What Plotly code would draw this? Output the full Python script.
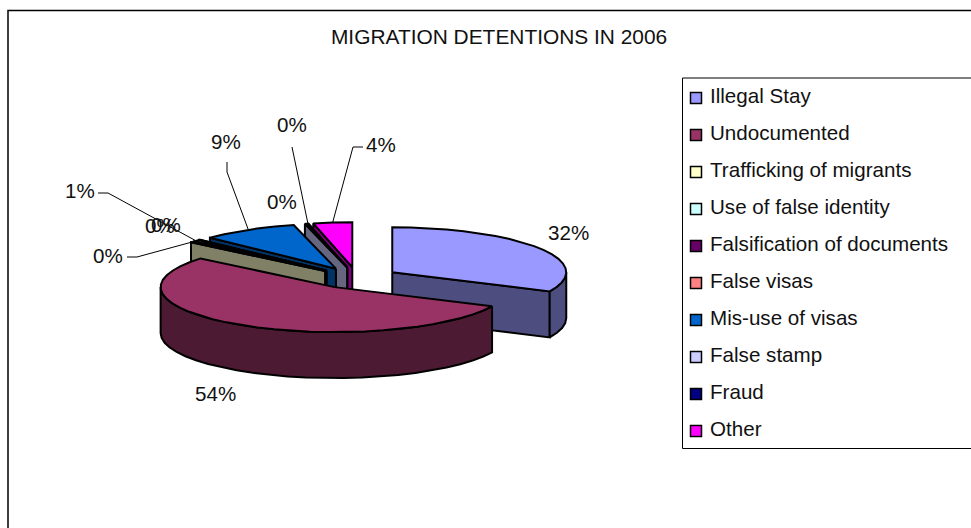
"""MIGRATION DETENTIONS 3D EXPLODED PIE"""

import numpy as np
import plotly.graph_objects as go

CATEGORIES = [
    "Illegal Stay",
    "Undocumented",
    "Trafficking of migrants",
    "Use of false identity",
    "Falsification of documents",
    "False visas",
    "Mis-use of visas",
    "False stamp",
    "Fraud",
    "Other",
]
PERCENTS = [32.0, 54.0, 0.3, 0.6, 0.1, 0.1, 9.0, 0.2, 0.1, 3.6]
TOP_COLORS = [
    "#9999FF", "#993366", "#FFFFCC", "#CCFFFF", "#660066",
    "#FF8080", "#0066CC", "#CCCCFF", "#000080", "#FF00FF",
]
SIDE_COLORS = [
    "#4D4D80", "#4D1A33", "#808066", "#668080", "#330033",
    "#804040", "#003366", "#666680", "#000040", "#800080",
]

# pie geometry, in the pixel units of the hidden axes
CENTER_X, CENTER_Y = 357, 278
RADIUS_X, RADIUS_Y = 174, 45
DEPTH = 46
EXPLODE = 0.24

# label centres, and the elbow of the leader line (None = no leader)
LABEL_POS = [
    (568, 232), (215, 393), (108, 255), (80, 190), (160, 225),
    (166, 224), (226, 141), (282, 201), (292, 124), (381, 144),
]
LEADER_ELBOWS = [
    None, None,
    [(127, 257), (137, 257)],
    [(98, 193), (108, 193)],
    None, None,
    [(227, 162), (227, 172)],
    None,
    [(292, 147)],
    [(363, 147), (353, 147)],
]

FONT = "Liberation Sans, Arial, sans-serif"
FONT_SIZE = 20.6
OUTLINE = 2


def rim_point(apex, angle, drop=0):
    """POINT ON THE ELLIPSE, ANGLE CLOCKWISE FROM 12 O'CLOCK"""
    rad = np.radians(angle)
    return apex[0] + RADIUS_X * np.sin(rad), apex[1] - RADIUS_Y * np.cos(rad) + drop


def arc(apex, start, end, drop=0):
    angles = np.linspace(start, end, max(int((end - start) / 6), 1) + 1)
    xs, ys = rim_point(apex, angles, drop)
    return list(xs), list(ys)


def polygon(xs, ys, color):
    return go.Scatter(
        x=xs + xs[:1],
        y=ys + ys[:1],
        mode="lines",
        fill="toself",
        fillcolor=color,
        line={"color": "black", "width": OUTLINE},
        hoverinfo="skip",
        showlegend=False,
    )


fig = go.Figure()

bounds = np.concatenate([[0], np.cumsum(PERCENTS)]) * 3.6
mids = (bounds[:-1] + bounds[1:]) / 2
apexes = [
    rim_point((CENTER_X, CENTER_Y), mid, 0) for mid in mids
]
apexes = [
    (CENTER_X + EXPLODE * (x - CENTER_X), CENTER_Y + EXPLODE * (y - CENTER_Y))
    for x, y in apexes
]

# painter's order: slices further back first
for i in sorted(range(len(PERCENTS)), key=lambda k: apexes[k][1]):
    apex = apexes[i]
    start, end = bounds[i], bounds[i + 1]

    for angle, visible in ((start, np.sin(np.radians(start)) < -1e-6),
                           (end, np.sin(np.radians(end)) > 1e-6)):
        if visible:
            x, y = rim_point(apex, angle)
            fig.add_trace(polygon(
                [apex[0], x, x, apex[0]],
                [apex[1], y, y + DEPTH, apex[1] + DEPTH],
                SIDE_COLORS[i],
            ))

    low, high = max(start, 90), min(end, 270)
    if low < high:
        top_x, top_y = arc(apex, low, high)
        bottom_x, bottom_y = arc(apex, low, high, DEPTH)
        fig.add_trace(polygon(
            top_x + bottom_x[::-1], top_y + bottom_y[::-1], SIDE_COLORS[i]
        ))

    face_x, face_y = arc(apex, start, end)
    fig.add_trace(polygon([apex[0]] + face_x, [apex[1]] + face_y, TOP_COLORS[i]))

# leader lines end on the rim, at the middle of their slice
for i, elbow in enumerate(LEADER_ELBOWS):
    if elbow is None:
        continue
    end_x, end_y = rim_point(apexes[i], mids[i])
    fig.add_trace(go.Scatter(
        x=[p[0] for p in elbow] + [float(end_x)],
        y=[p[1] for p in elbow] + [float(end_y)],
        mode="lines",
        line={"color": "black", "width": 1},
        hoverinfo="skip",
        showlegend=False,
    ))

for i, (x, y) in enumerate(LABEL_POS):
    fig.add_annotation(
        x=x, y=y, text=f"{round(PERCENTS[i])}%", showarrow=False,
        xanchor="center", yanchor="middle",
        font={"family": FONT, "size": FONT_SIZE, "color": "#111111"},
    )

# legend drawn by hand: plotly's own cannot put the text this close to the swatch
swatch_y = [98 + 37 * i for i in range(len(CATEGORIES))]
legend_y = [97.5 + 37 * i for i in range(len(CATEGORIES))]
fig.add_trace(go.Scatter(
    x=[696] * len(CATEGORIES),
    y=swatch_y,
    mode="markers",
    marker={
        "symbol": "square",
        "size": 11,
        "color": TOP_COLORS,
        "line": {"color": "black", "width": 1.5},
    },
    hoverinfo="skip",
    showlegend=False,
))
fig.add_trace(go.Scatter(
    x=[710] * len(CATEGORIES),
    y=legend_y,
    mode="text",
    text=CATEGORIES,
    textposition="middle right",
    textfont={"family": FONT, "size": FONT_SIZE, "color": "#111111"},
    hoverinfo="skip",
    showlegend=False,
))

fig.update_layout(
    width=971,
    height=528,
    margin={"t": 0, "l": 0, "r": 0, "b": 0},
    paper_bgcolor="white",
    plot_bgcolor="white",
    showlegend=False,
    title={
        "text": "MIGRATION DETENTIONS IN 2006",
        "x": 0.514,
        "xanchor": "center",
        "y": 1 - 37 / 528,
        "yanchor": "middle",
        "font": {"family": FONT, "size": 20.9, "color": "#111111"},
    },
    xaxis={"range": [0, 971], "visible": False, "fixedrange": True},
    yaxis={"range": [528, 0], "visible": False, "fixedrange": True},
    shapes=[
        {"type": "rect", "x0": 8, "y0": 10.5, "x1": 990, "y1": 540,
         "line": {"color": "black", "width": 1.5}, "layer": "below"},
        {"type": "rect", "x0": 682.5, "y0": 78, "x1": 990, "y1": 448.5,
         "line": {"color": "black", "width": 1}, "layer": "below"},
    ],
)

fig.write_html(
    "out.html",
    config={"displayModeBar": False},
    post_script="document.body.style.margin='0';document.body.style.overflow='hidden';",
)
